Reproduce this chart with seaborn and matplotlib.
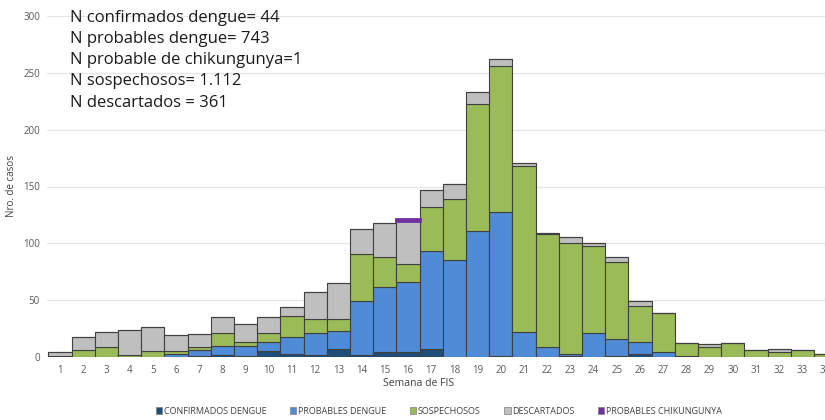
import pandas as pd
import seaborn as sns
import matplotlib.pyplot as plt
from matplotlib.patches import Patch
from matplotlib.colors import to_rgba

sns.set_theme(style="white")
plt.rcParams['font.family'] = ['Open Sans', 'DejaVu Sans']

# Semanas epidemiologicas (fecha de inicio de sintomas)
semanas = list(range(1, 35))

confirmados = [0, 0, 0, 0, 0, 0, 1, 2, 1, 5, 3, 2, 7, 2, 4, 4, 7, 0, 0, 1,
               0, 0, 1, 0, 1, 3, 0, 0, 0, 0, 0, 0, 0, 0]
probables = [0, 0, 0, 0, 0, 3, 5, 8, 9, 8, 15, 19, 16, 47, 58, 62, 86, 85, 111, 127,
             22, 9, 2, 21, 15, 10, 4, 1, 0, 0, 0, 0, 0, 0]
sospechosos = [1, 6, 9, 2, 5, 2, 3, 11, 3, 8, 18, 12, 10, 42, 26, 16, 39, 54, 112, 128,
               146, 99, 97, 77, 68, 32, 35, 11, 9, 12, 6, 4, 6, 3]
descartados = [3, 12, 13, 22, 21, 14, 11, 14, 16, 14, 8, 24, 32, 22, 30, 38, 15, 13, 10, 6,
               3, 1, 6, 2, 4, 4, 0, 0, 2, 0, 0, 3, 0, 0]
chikungunya = [0] * 15 + [1] + [0] * 18

categorias = ["CONFIRMADOS DENGUE", "PROBABLES DENGUE", "SOSPECHOSOS",
              "DESCARTADOS", "PROBABLES CHIKUNGUNYA"]
colores = ["#1F4E79", "#4F8BD6", "#9BBB59", "#BFBFBF", "#7030A0"]

resumen = ["N confirmados dengue= 44", "N probables dengue= 743",
           "N probable de chikungunya=1", "N sospechosos= 1.112",
           "N descartados = 361"]

series = [confirmados, probables, sospechosos, descartados, chikungunya]
df = pd.concat([pd.DataFrame({"semana": semanas, "casos": vals, "categoria": cat})
                for cat, vals in zip(categorias, series)], ignore_index=True)

fig = plt.figure(figsize=(8.25, 4.2), dpi=100)
W, H = 825, 420
x0, x1 = 0.44, 35.0
px_per_week = 23.2
ax = fig.add_axes([47 / W, 63 / H, (x1 - x0) * px_per_week / W, 341 / H])

# seaborn stacks the first hue level on top, so pass them reversed
sns.histplot(data=df, x="semana", weights="casos", hue="categoria",
             hue_order=categorias[::-1], palette=colores[::-1],
             multiple="stack", discrete=True, shrink=1.0,
             edgecolor="#404040", linewidth=0.8, alpha=1.0,
             legend=False, ax=ax)

# the single chikungunya case shows as a thick purple cap
purple = to_rgba(colores[-1])
for p in ax.patches:
    if p.get_height() > 0 and tuple(round(c, 3) for c in p.get_facecolor()) == tuple(round(c, 3) for c in purple):
        p.set_edgecolor(colores[-1])
        p.set_linewidth(2.0)

ax.set_xlim(x0, x1)
ax.set_ylim(0, 300)
ax.set_yticks(range(0, 301, 50))
ax.set_xticks(semanas)
ax.tick_params(axis="both", length=0, labelsize=7, labelcolor="#595959")
ax.tick_params(axis="x", pad=6)
ax.tick_params(axis="y", pad=5)
ax.yaxis.grid(True, color="#E6E6E6", linewidth=0.9)
ax.set_axisbelow(True)
for s in ax.spines.values():
    s.set_visible(False)
ax.set_xlabel("")
ax.set_ylabel("")

fig.text(12 / W, 1 - 186 / H, "Nro. de casos", rotation=90, ha="center", va="center",
         fontsize=7, color="#404040")
fig.text(419 / W, 1 - 384 / H, "Semana de FIS", ha="center", va="center",
         fontsize=7.5, color="#404040")

fig.text(70 / W, 1 - 10 / H, "\n".join(resumen), ha="left", va="top",
         fontsize=12, color="#1a1a1a", linespacing=1.43)

handles = [Patch(facecolor=c, edgecolor="#7f7f7f", linewidth=0.5) for c in colores]
fig.legend(handles, categorias, loc="center", bbox_to_anchor=(439 / W, 9 / H),
           ncol=5, frameon=False, fontsize=6.5, handlelength=0.7, handleheight=0.7,
           handletextpad=0.2, columnspacing=2.6, labelcolor="#404040")

fig.savefig("out.png", dpi=100)
